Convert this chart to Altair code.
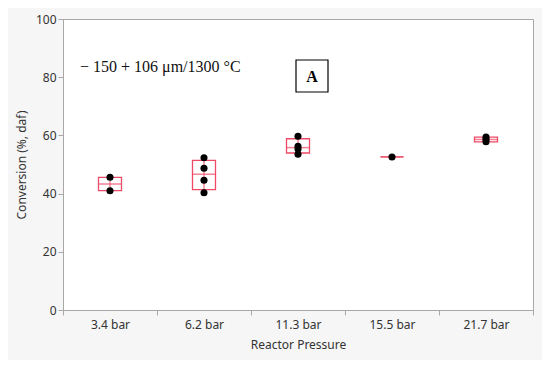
import altair as alt
import numpy as np
import pandas as pd

categories = ["3.4 bar", "6.2 bar", "11.3 bar", "15.5 bar", "21.7 bar"]
values_3_4 = [45.6, 41.0]
values_6_2 = [52.3, 48.7, 44.6, 40.3]
values_11_3 = [59.7, 56.3, 55.3, 53.5]
values_15_5 = [52.6]
values_21_7 = [59.4, 58.6, 57.8]
series = [values_3_4, values_6_2, values_11_3, values_15_5, values_21_7]

y_ticks = [0, 10, 20, 30, 40, 50, 60, 70, 80, 90, 100]
annotation = "\u2212 150 + 106 \u03bcm/1300 \u00b0C"
panel_label = "A"

rows = []
stats = []
for cat, vals in zip(categories, series):
    for v in vals:
        rows.append({"p": cat, "v": v})
    arr = np.array(vals)
    stats.append({
        "p": cat,
        "q1": float(np.percentile(arr, 25, method="weibull")),
        "med": float(np.median(arr)),
        "q3": float(np.percentile(arr, 75, method="weibull")),
        "lo": float(arr.min()),
        "hi": float(arr.max()),
    })
pts = pd.DataFrame(rows)
st = pd.DataFrame(stats)

RED = "#ef4b67"

x_enc = alt.X("p:N", sort=categories, title="Reactor Pressure",
              scale=alt.Scale(paddingInner=0, paddingOuter=0),
              axis=alt.Axis(labelAngle=0, tickBand="extent", tickSize=5,
                            labelPadding=4, titlePadding=9, domain=False))
y_scale = alt.Scale(domain=[0, 100], nice=False)
y_axis = alt.Axis(values=y_ticks, tickSize=5, labelPadding=2, titlePadding=7,
                  labelExpr="datum.value % 20 == 0 ? datum.label : ''", grid=False)

whisk = alt.Chart(st).mark_rule(color=RED, strokeWidth=1).encode(
    x=x_enc, y=alt.Y("lo:Q", scale=y_scale, axis=y_axis, title="Conversion (%, daf)"),
    y2="hi:Q")
box = alt.Chart(st).mark_bar(size=23, fill="white", fillOpacity=0, stroke=RED,
                             strokeWidth=1.3).encode(
    x=x_enc, y=alt.Y("q1:Q", scale=y_scale), y2="q3:Q")
med = alt.Chart(st).mark_tick(size=23, thickness=1.5, color=RED).encode(
    x=x_enc, y=alt.Y("med:Q", scale=y_scale))
dots = alt.Chart(pts).mark_circle(size=50, color="black", opacity=1).encode(
    x=x_enc, y=alt.Y("v:Q", scale=y_scale))

one = pd.DataFrame({"t": [annotation], "a": [panel_label]})
txt = alt.Chart(one).mark_text(align="left", baseline="middle", font="Liberation Serif",
                               fontSize=16, color="#111").encode(
    x=alt.value(17), y=alt.value(48), text="t:N")
abox = alt.Chart(one).mark_rect(fill="white", stroke="black", strokeWidth=1.2).encode(
    x=alt.value(233), x2=alt.value(265), y=alt.value(41), y2=alt.value(73))
atxt = alt.Chart(one).mark_text(align="center", baseline="middle", font="Liberation Serif",
                                fontSize=16, fontWeight="bold", color="black").encode(
    x=alt.value(249), y=alt.value(58), text="a:N")

chart = alt.layer(whisk, box, med, dots, txt, abox, atxt).properties(
    width=470, height=291,
    background="#f6f6f6",
    padding={"left": 55, "top": 11, "right": 9, "bottom": 50},
    autosize=alt.AutoSizeParams(type="none"),
).configure_view(stroke="#a8a8a8", fill="white").configure_axis(
    labelFont="Noto Sans", titleFont="Noto Sans", labelFontSize=12, titleFontSize=12,
    labelColor="#333", titleColor="#333", titleFontWeight="normal",
    domainColor="#a8a8a8", tickColor="#a8a8a8",
)

chart.save("out.html", embed_options={"renderer": "svg", "actions": False})
